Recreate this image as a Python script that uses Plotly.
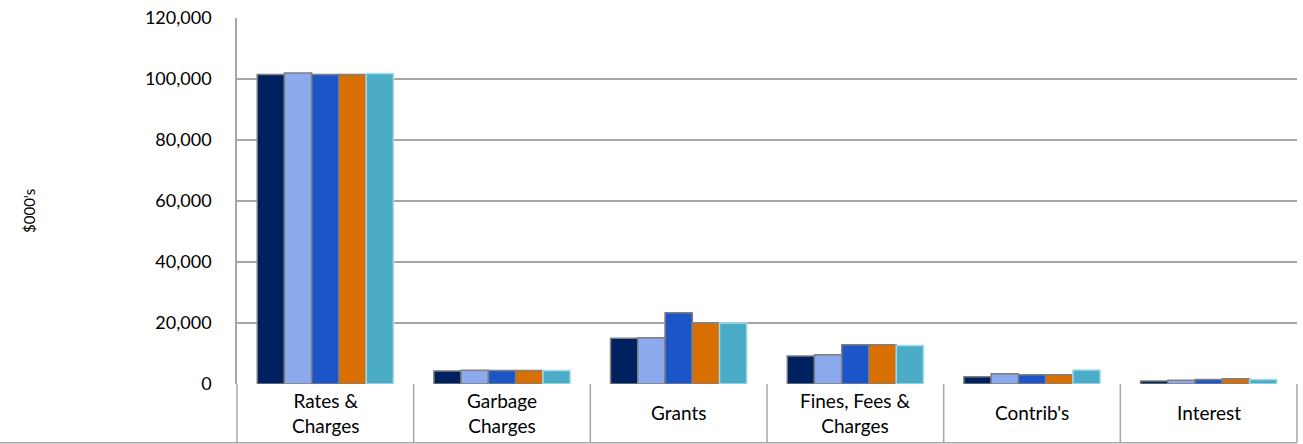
import plotly.graph_objects as go

# Revenue by source, $000's
categories = ["Rates &<br>Charges", "Garbage<br>Charges", "Grants",
              "Fines, Fees &<br>Charges", "Contrib's", "Interest"]
series_names = ["Year 1", "Year 2", "Year 3", "Year 4", "Year 5"]
year1 = [101500, 4300, 15000, 9200, 2400, 1000]
year2 = [102000, 4500, 15200, 9600, 3400, 1200]
year3 = [101500, 4400, 23400, 12900, 3000, 1500]
year4 = [101500, 4400, 20000, 12900, 3000, 1700]
year5 = [101800, 4400, 20000, 12600, 4600, 1500]
y_ticks = [0, 20000, 40000, 60000, 80000, 100000, 120000]

series_values = [year1, year2, year3, year4, year5]
fill_colors = ["#00215f", "#8eaaee", "#1c55c8", "#d96f00", "#4aacc6"]
line_colors = ["#7f7f7f", "#7f7f7f", "#7f7f7f", "#7f7f7f", "#a9dbe6"]

FONT = "Lato, 'Open Sans', sans-serif"

fig = go.Figure()
idx = list(range(len(categories)))
for name, vals, fc, lc in zip(series_names, series_values, fill_colors, line_colors):
    fig.add_trace(go.Bar(
        x=idx, y=vals, name=name,
        marker=dict(color=fc, line=dict(color=lc, width=1.5)),
        showlegend=False,
    ))

# plot-area geometry in pixels
W, H = 1303, 444
L, R, T, B = 237, 6, 16, 60
plot_h = H - T - B
plot_w = W - L - R
box_bottom = -(59 / plot_h)  # bottom of the category label box
n = len(categories)

shapes = []
# vertical separators between category labels
for k in range(n + 1):
    shapes.append(dict(type="line", xref="paper", yref="paper",
                       x0=k / n, x1=k / n, y0=0, y1=box_bottom,
                       line=dict(color="#a6a6a6", width=1.5)))
# bottom border of the label box
shapes.append(dict(type="line", xref="paper", yref="paper",
                   x0=-L / plot_w, x1=1, y0=box_bottom, y1=box_bottom,
                   line=dict(color="#a6a6a6", width=1.5)))

annotations = []
for i, cat in enumerate(categories):
    annotations.append(dict(x=i, y=-(29 / plot_h), xref="x", yref="paper",
                            text=cat, showarrow=False, xanchor="center",
                            yanchor="middle",
                            font=dict(family=FONT, size=19, color="#000000")))
annotations.append(dict(x=-(219 / plot_w), y=(384 - 210) / plot_h,
                        xref="paper", yref="paper", text="$000's",
                        textangle=-90, showarrow=False,
                        font=dict(family=FONT, size=15, color="#000000")))

fig.update_layout(
    width=W, height=H,
    margin=dict(l=L, r=R, t=T, b=B, pad=0),
    paper_bgcolor="white", plot_bgcolor="white",
    barmode="group", bargap=0.229, bargroupgap=0,
    font=dict(family=FONT, color="#000000"),
    xaxis=dict(range=[-0.5, n - 0.5], showticklabels=False,
               showgrid=False, zeroline=False, showline=False, ticks=""),
    yaxis=dict(range=[0, 120000], tickvals=y_ticks,
               ticktext=[f"{v:,}" for v in y_ticks],
               showgrid=True, gridcolor="#a6a6a6", gridwidth=1.5,
               zeroline=False, showline=True, linecolor="#a6a6a6",
               linewidth=1.5, ticks="", ticklabelstandoff=20,
               tickfont=dict(family=FONT, size=18, color="#000000")),
    shapes=shapes,
    annotations=annotations,
)

fig.write_html("out.html")
